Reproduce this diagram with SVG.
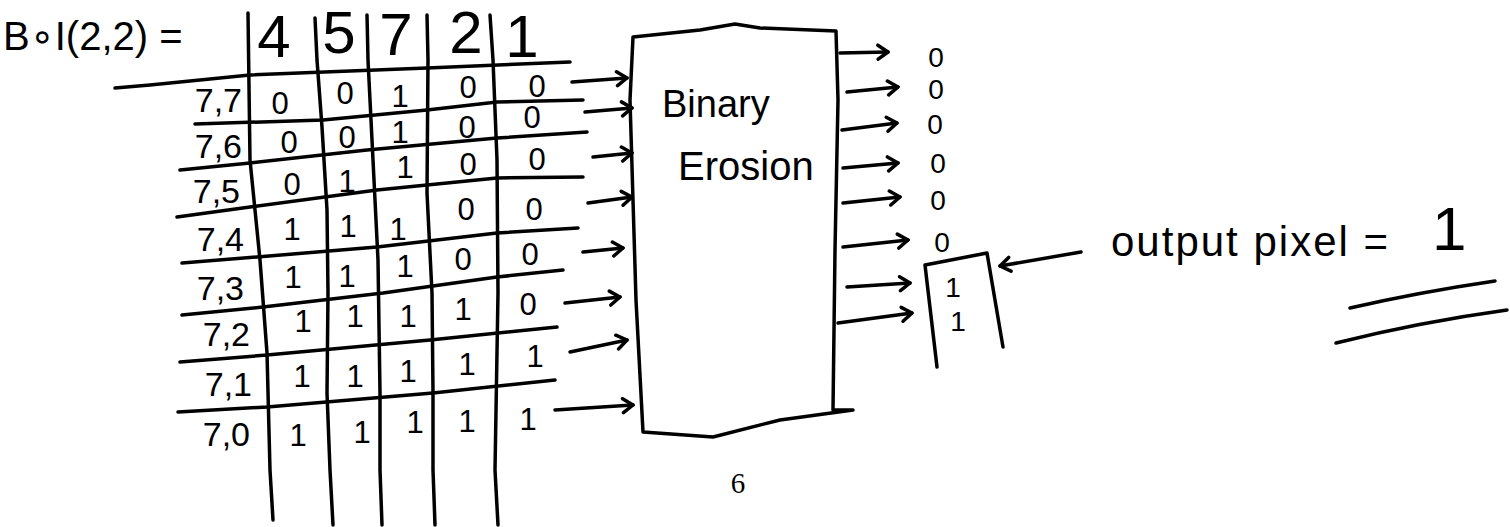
<svg xmlns="http://www.w3.org/2000/svg" width="1510" height="527" viewBox="0 0 1510 527">
<defs>
<style>
.ln{fill:none;stroke:#000;stroke-width:3.5;stroke-linecap:round;stroke-linejoin:round}
.ar{fill:none;stroke:#000;stroke-width:3.5;stroke-linecap:round;marker-end:url(#ah)}
.t{font-family:"Liberation Sans","DejaVu Sans",sans-serif;fill:#000}
.hd{font-size:60px;text-anchor:middle}
.rl{font-size:34px;text-anchor:end}
.cv{font-size:31px;text-anchor:middle}
.ov{font-size:28px;text-anchor:middle}
</style>
<marker id="ah" viewBox="-13 -9 15 18" refX="0" refY="0" markerWidth="15" markerHeight="18" markerUnits="userSpaceOnUse" orient="auto">
<path d="M-10,-7 L0,0 L-10,7" fill="none" stroke="#000" stroke-width="3.5" stroke-linecap="round" stroke-linejoin="round"/>
</marker>
</defs>
<rect width="1510" height="527" fill="#fff"/>

<g id="title">
<text class="t" x="3" y="50" font-size="40">B∘I(2,2) =</text>
</g>

<g id="grid">
<path class="ln" d="M248,13 L250,160 L260,260 L267,353 L270,470 L273,520"/>
<path class="ln" d="M315,18 L317,60 L322,127 L327,210 L328,293 L327,393 L330,470 L333,525"/>
<path class="ln" d="M367,15 L368,60 L373,160 L378,260 L380,393 L380,470 L382,525"/>
<path class="ln" d="M427,15 L428,60 L427,193 L432,293 L433,393 L433,470 L435,525"/>
<path class="ln" d="M490,15 L493,60 L497,160 L498,293 L495,470 L498,525"/>
<path class="ln" d="M115,88 L150,85 L250,75 L427,68 L570,62"/>
<path class="ln" d="M195,124 L323,120 L427,110 L497,102 L583,100"/>
<path class="ln" d="M180,170 L250,163 L367,150 L497,138 L587,132"/>
<path class="ln" d="M177,217 L250,207 L377,190 L497,178 L583,177"/>
<path class="ln" d="M182,263 L257,257 L377,247 L497,233 L578,228"/>
<path class="ln" d="M182,315 L263,307 L383,293 L497,277 L563,270"/>
<path class="ln" d="M180,362 L267,355 L430,340 L557,327"/>
<path class="ln" d="M178,412 L267,407 L433,393 L555,380"/>
</g>

<g id="header-values" class="t hd">
<text x="274" y="57">4</text>
<text x="339" y="53">5</text>
<text x="396" y="55">7</text>
<text x="466" y="53">2</text>
<text x="522" y="57">1</text>
</g>

<g id="row-labels" class="t rl">
<text x="242" y="112">7,7</text>
<text x="242" y="158">7,6</text>
<text x="240" y="203">7,5</text>
<text x="244" y="251">7,4</text>
<text x="244" y="300">7,3</text>
<text x="250" y="346">7,2</text>
<text x="252" y="396">7,1</text>
<text x="250" y="446">7,0</text>
</g>

<g id="cells" class="t cv">
<text x="280" y="114">0</text><text x="345" y="104">0</text><text x="400" y="107">1</text><text x="468" y="98">0</text><text x="537" y="97">0</text>
<text x="289" y="153">0</text><text x="347" y="148">0</text><text x="400" y="143">1</text><text x="467" y="138">0</text><text x="532" y="128">0</text>
<text x="292" y="195">0</text><text x="347" y="192">1</text><text x="405" y="178">1</text><text x="468" y="175">0</text><text x="537" y="170">0</text>
<text x="292" y="240">1</text><text x="348" y="237">1</text><text x="398" y="240">1</text><text x="466" y="220">0</text><text x="534" y="220">0</text>
<text x="293" y="288">1</text><text x="347" y="287">1</text><text x="405" y="277">1</text><text x="463" y="270">0</text><text x="530" y="265">0</text>
<text x="303" y="332">1</text><text x="355" y="327">1</text><text x="408" y="327">1</text><text x="463" y="320">1</text><text x="528" y="315">0</text>
<text x="302" y="387">1</text><text x="355" y="387">1</text><text x="408" y="382">1</text><text x="467" y="375">1</text><text x="535" y="367">1</text>
<text x="298" y="446">1</text><text x="362" y="443">1</text><text x="415" y="433">1</text><text x="467" y="432">1</text><text x="528" y="430">1</text>
</g>

<g id="erosion-box">
<path class="ln" d="M633,37 L700,30 L735,24 L760,28 L836,31 L838,100 L835,250 L833,410 L853,410 L780,420 L713,437 L643,432 L636,300 L630,100 Z"/>
<text class="t" x="662" y="117" font-size="38">Binary</text>
<text class="t" x="678" y="180" font-size="40">Erosion</text>
</g>

<g id="outputs">
<g class="t ov">
<text x="936" y="67">0</text>
<text x="936" y="99">0</text>
<text x="935" y="134">0</text>
<text x="938" y="173">0</text>
<text x="938" y="210">0</text>
<text x="942" y="252">0</text>
<text x="953" y="297">1</text>
<text x="958" y="331">1</text>
</g>
<path class="ln" d="M937,367 L925,265 L987,253 L1003,347"/>
</g>

<g id="output-pixel-label">
<text class="t" x="1111" y="256" font-size="42" letter-spacing="2">output pixel = <tspan x="1432" y="250" font-size="62">1</tspan></text>
<path class="ln" d="M1350,308 Q1420,292 1495,281"/>
<path class="ln" d="M1336,343 Q1420,322 1507,310"/>
</g>

<g id="connectors">
<path class="ar" d="M572,82 L627,78"/>
<path class="ar" d="M585,112 L632,108"/>
<path class="ar" d="M593,157 L632,153"/>
<path class="ar" d="M588,203 L632,197"/>
<path class="ar" d="M583,252 L623,248"/>
<path class="ar" d="M565,303 L620,297"/>
<path class="ar" d="M570,352 L627,340"/>
<path class="ar" d="M555,410 L633,405"/>
<path class="ar" d="M840,53 L888,52"/>
<path class="ar" d="M847,92 L898,87"/>
<path class="ar" d="M842,130 L897,123"/>
<path class="ar" d="M843,168 L898,163"/>
<path class="ar" d="M843,203 L900,197"/>
<path class="ar" d="M843,247 L908,240"/>
<path class="ar" d="M847,287 L910,283"/>
<path class="ar" d="M838,323 L912,313"/>
<path class="ar" d="M1081,252 L1000,266"/>
</g>

<g id="page-number">
<text x="738" y="493" font-family="Liberation Serif, serif" font-size="29" text-anchor="middle">6</text>
</g>
</svg>
